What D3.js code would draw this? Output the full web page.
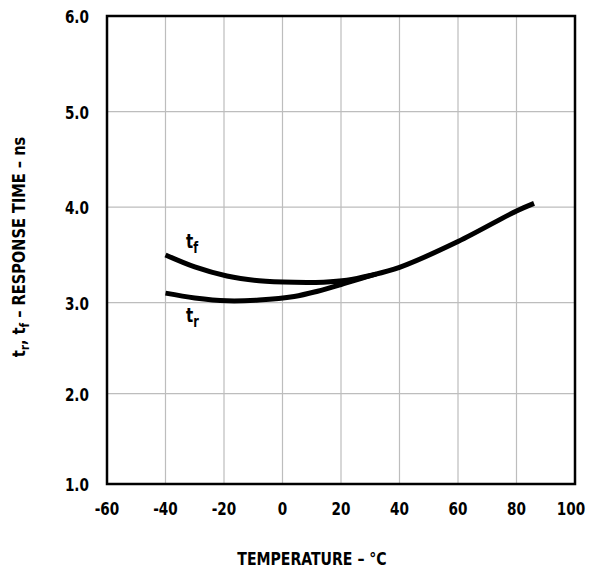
<!DOCTYPE html>
<html>
<head>
<meta charset="utf-8">
<script src="https://cdn.jsdelivr.net/npm/d3@7.9.0/dist/d3.min.js"></script>
<style>
  body { margin: 0; background: #fff; }
  text { font-family: "Liberation Sans Narrow", "DejaVu Sans Condensed", sans-serif; font-weight: bold; fill: #000; }
</style>
</head>
<body>
<svg id="chart" width="589" height="570"></svg>
<script>
const xTicks = [-60, -40, -20, 0, 20, 40, 60, 80, 100];
const yTicks = [1, 2, 3, 4, 5, 6];

// fall time t_f
const tfTemp = [-40, -30, -19, -8, 4, 14, 22, 30, 40, 60, 80, 86];
const tfVals = [3.50, 3.375, 3.28, 3.23, 3.213, 3.215, 3.235, 3.285, 3.37, 3.64, 3.96, 4.04];

// rise time t_r
const trTemp = [-40, -30, -19, -8, 4, 12, 20, 27, 32];
const trVals = [3.10, 3.05, 3.02, 3.028, 3.065, 3.12, 3.19, 3.255, 3.30];

const svg = d3.select('#chart');
const plotL = 107, plotR = 575, plotT = 16, plotB = 484;
const squeeze = 0.84; // the original uses a condensed bold face

let x = d3.scaleLinear().domain([-60, 100]).range([plotL, plotR]);
// the printed grid is not quite even below 3.0
let y = d3.scaleLinear().domain([1, 2, 3, 6]).range([plotB, 393.7, 302.7, plotT]);

// grid
svg.append('g')
  .selectAll('line')
  .data(xTicks.slice(1, -1))
  .join('line')
  .attr('x1', d => x(d)).attr('x2', d => x(d))
  .attr('y1', plotT).attr('y2', plotB)
  .attr('stroke', '#bdbdbd').attr('stroke-width', 1.2);

svg.append('g')
  .selectAll('line')
  .data(yTicks.slice(1, -1))
  .join('line')
  .attr('x1', plotL).attr('x2', plotR)
  .attr('y1', d => y(d)).attr('y2', d => y(d))
  .attr('stroke', '#bdbdbd').attr('stroke-width', 1.2);

// frame
svg.append('rect')
  .attr('x', plotL).attr('y', plotT)
  .attr('width', plotR - plotL).attr('height', plotB - plotT)
  .attr('fill', 'none').attr('stroke', '#000').attr('stroke-width', 2.5);

// tick labels
svg.append('g')
  .selectAll('text')
  .data(xTicks)
  .join('text')
  .attr('transform', d => `translate(${d === 100 ? x(d) - 4 : x(d)},515) scale(${squeeze},1)`)
  .attr('text-anchor', 'middle')
  .attr('font-size', 18)
  .text(d => d);

svg.append('g')
  .selectAll('text')
  .data(yTicks)
  .join('text')
  .attr('transform', d => `translate(89,${y(d) + 7}) scale(${squeeze},1)`)
  .attr('text-anchor', 'end')
  .attr('font-size', 18)
  .text(d => d.toFixed(1));

// axis titles
svg.append('text')
  .attr('transform', `translate(312,565) scale(0.87,1)`)
  .attr('text-anchor', 'middle')
  .attr('font-size', 18)
  .text('TEMPERATURE – °C');

let yt = svg.append('text')
  .attr('transform', 'translate(25,247) rotate(-90) scale(0.9,1)')
  .attr('text-anchor', 'middle')
  .attr('font-size', 18);
yt.append('tspan').text('t');
yt.append('tspan').attr('font-size', 13).attr('dy', 4).text('r');
yt.append('tspan').attr('dy', -4).text(', t');
yt.append('tspan').attr('font-size', 13).attr('dy', 4).text('f');
yt.append('tspan').attr('dy', -4).text(' – RESPONSE TIME – ns');

// curves
let line = d3.line()
  .x(d => x(d[0]))
  .y(d => y(d[1]))
  .curve(d3.curveCatmullRom.alpha(0.5));

const tf = tfTemp.map((t, i) => [t, tfVals[i]]);
const tr = trTemp.map((t, i) => [t, trVals[i]]);

[tf, tr].forEach(series => {
  svg.append('path')
    .attr('d', line(series))
    .attr('fill', 'none')
    .attr('stroke', '#000')
    .attr('stroke-width', 5);
});

// curve labels
function curveLabel(px, py, sub) {
  let t = svg.append('text')
    .attr('transform', `translate(${px},${py}) scale(${squeeze},1)`)
    .attr('font-size', 20);
  t.append('tspan').text('t');
  t.append('tspan').attr('font-size', 15).attr('dy', 5).text(sub);
}
curveLabel(186, 248, 'f');
curveLabel(186, 322, 'r');
</script>
</body>
</html>
